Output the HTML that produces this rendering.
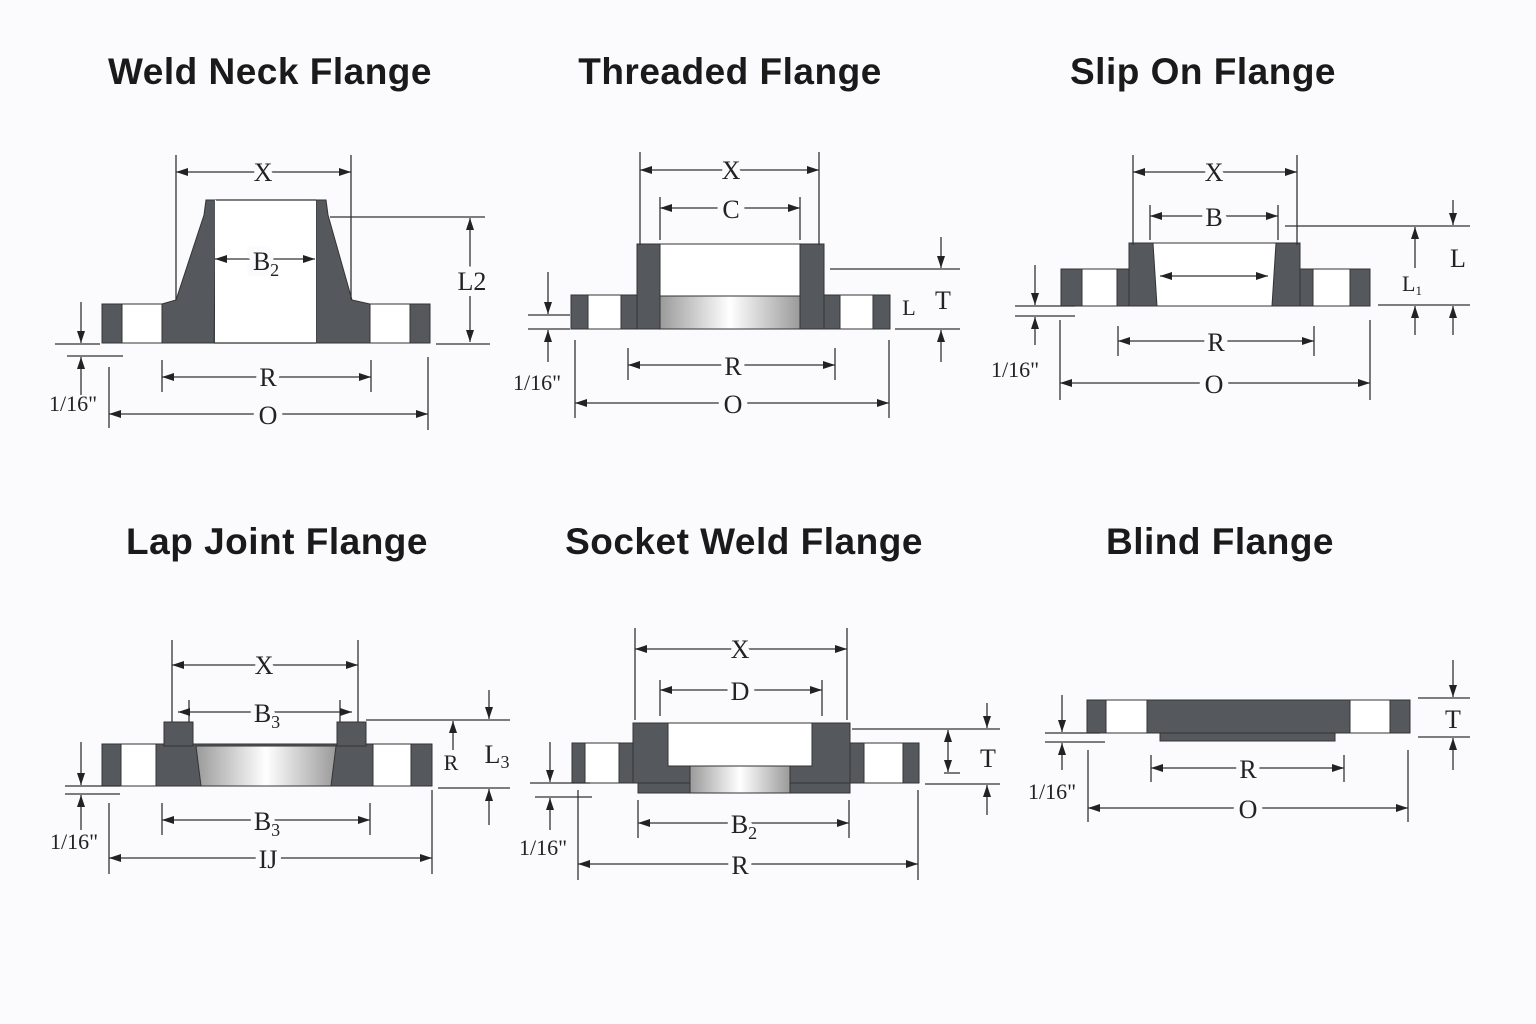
<!DOCTYPE html>
<html><head><meta charset="utf-8"><style>
html,body{margin:0;padding:0;background:#fbfafc}
svg{display:block}
.t{font-family:"Liberation Sans",sans-serif;font-weight:bold;font-size:37px;fill:#1a1a1a;text-anchor:middle;letter-spacing:0.5px}
.l{font-family:"Liberation Serif",serif;font-size:26px;fill:#222;text-anchor:middle;stroke:#fbfafc;stroke-width:12px;paint-order:stroke}
.l tspan{stroke-width:3px}
.s{font-family:"Liberation Serif",serif;font-size:22px;fill:#222;text-anchor:middle}
line,.d{stroke:#333;stroke-width:1.3;fill:none}
.a{marker-start:url(#ar);marker-end:url(#ar)}
.a1{marker-end:url(#ar)}
.k{fill:#55595e;stroke:#333;stroke-width:1}
.w{fill:#fff;stroke:#333;stroke-width:1}
.g{fill:url(#gr);stroke:#333;stroke-width:1}
</style></head><body>
<svg width="1536" height="1024" viewBox="0 0 1536 1024" xmlns="http://www.w3.org/2000/svg">
<defs>
<marker id="ar" viewBox="0 0 12 8" refX="12" refY="4" markerWidth="12" markerHeight="8" markerUnits="userSpaceOnUse" orient="auto-start-reverse"><path d="M0,0L12,4L0,8z" fill="#222"/></marker>
<linearGradient id="gr" x1="0" x2="1" y1="0" y2="0"><stop offset="0" stop-color="#9a9a9a"/><stop offset="0.5" stop-color="#ffffff"/><stop offset="1" stop-color="#9a9a9a"/></linearGradient>
</defs>
<rect width="1536" height="1024" fill="#fbfafc"/>
<text class="t" x="270" y="84">Weld Neck Flange</text>
<text class="t" x="730" y="84">Threaded Flange</text>
<text class="t" x="1203" y="84">Slip On Flange</text>
<text class="t" x="277" y="554">Lap Joint Flange</text>
<text class="t" x="744" y="554">Socket Weld Flange</text>
<text class="t" x="1220" y="554">Blind Flange</text>

<!-- Weld Neck -->
<rect class="k" x="102" y="304" width="328" height="39"/>
<rect class="w" x="122" y="304" width="40" height="39"/>
<rect class="w" x="370" y="304" width="40" height="39"/>
<polygon class="k" points="162,304 176,300 204,215 206,200 216,200 214,343 162,343"/>
<polygon class="k" points="316,200 326,200 328,215 352,300 370,304 370,343 316,343"/>
<rect x="215" y="200" width="101" height="143" fill="#fff"/>
<line x1="216" y1="200" x2="316" y2="200"/><line x1="214" y1="343" x2="316" y2="343"/>
<line x1="176" y1="155" x2="176" y2="300"/><line x1="351" y1="155" x2="351" y2="300"/>
<line class="a" x1="176" y1="172" x2="351" y2="172"/><text class="l" x="263" y="181">X</text>
<line class="a" x1="215" y1="259" x2="315" y2="259"/><text class="l" x="266" y="270">B<tspan font-size="18" dy="6">2</tspan></text>
<line x1="330" y1="217" x2="485" y2="217"/><line x1="436" y1="344" x2="490" y2="344"/>
<line class="a" x1="470" y1="218" x2="470" y2="342"/><text class="l" x="472" y="290" font-size="22">L2</text>
<line x1="55" y1="344" x2="100" y2="344"/><line x1="67" y1="356" x2="123" y2="356"/>
<line class="a1" x1="81" y1="302" x2="81" y2="343"/><line class="a1" x1="81" y1="395" x2="81" y2="357"/>
<text class="s" x="73" y="411">1/16"</text>
<line x1="162" y1="360" x2="162" y2="392"/><line x1="371" y1="360" x2="371" y2="392"/>
<line class="a" x1="162" y1="377" x2="371" y2="377"/><text class="l" x="268" y="386">R</text>
<line x1="109" y1="367" x2="109" y2="428"/><line x1="428" y1="357" x2="428" y2="430"/>
<line class="a" x1="109" y1="414" x2="428" y2="414"/><text class="l" x="268" y="424">O</text>

<!-- Threaded -->
<rect class="k" x="571" y="295" width="319" height="34"/>
<path class="k" d="M637,244H824V329H637z"/>
<rect class="w" x="588" y="295" width="33" height="34"/>
<rect class="w" x="840" y="295" width="33" height="34"/>
<rect x="660" y="244" width="140" height="52" fill="#fff" stroke="#333"/>
<rect class="g" x="660" y="296" width="140" height="33"/>
<line x1="640" y1="152" x2="640" y2="245"/><line x1="819" y1="152" x2="819" y2="245"/>
<line class="a" x1="640" y1="170" x2="819" y2="170"/><text class="l" x="731" y="179">X</text>
<line x1="660" y1="197" x2="660" y2="240"/><line x1="800" y1="197" x2="800" y2="240"/>
<line class="a" x1="660" y1="208" x2="800" y2="208"/><text class="l" x="731" y="218">C</text>
<line x1="830" y1="269" x2="960" y2="269"/><line x1="895" y1="329" x2="960" y2="329"/>
<line class="a1" x1="941" y1="237" x2="941" y2="268"/><line class="a1" x1="941" y1="362" x2="941" y2="330"/>
<text class="l" x="943" y="309">T</text><text class="s" x="909" y="315" font-size="18">L</text>
<line x1="528" y1="315" x2="570" y2="315"/><line x1="528" y1="329" x2="570" y2="329"/>
<line class="a1" x1="548" y1="272" x2="548" y2="314"/><line class="a1" x1="548" y1="362" x2="548" y2="330"/>
<text class="s" x="537" y="390">1/16"</text>
<line x1="628" y1="348" x2="628" y2="380"/><line x1="835" y1="348" x2="835" y2="380"/>
<line class="a" x1="628" y1="365" x2="835" y2="365"/><text class="l" x="733" y="375">R</text>
<line x1="575" y1="340" x2="575" y2="418"/><line x1="889" y1="340" x2="889" y2="418"/>
<line class="a" x1="575" y1="403" x2="889" y2="403"/><text class="l" x="733" y="413">O</text>

<!-- Slip On -->
<rect class="k" x="1061" y="269" width="309" height="37"/>
<rect class="k" x="1129" y="243" width="171" height="63"/>
<rect class="w" x="1082" y="269" width="35" height="37"/>
<rect class="w" x="1313" y="269" width="37" height="37"/>
<polygon class="w" points="1153,243 1276,243 1272,306 1157,306"/>
<line class="a" x1="1160" y1="276" x2="1268" y2="276"/>
<line x1="1133" y1="155" x2="1133" y2="245"/><line x1="1297" y1="155" x2="1297" y2="245"/>
<line class="a" x1="1133" y1="172" x2="1297" y2="172"/><text class="l" x="1214" y="181">X</text>
<line x1="1150" y1="205" x2="1150" y2="240"/><line x1="1278" y1="205" x2="1278" y2="240"/>
<line class="a" x1="1150" y1="216" x2="1278" y2="216"/><text class="l" x="1214" y="226">B</text>
<line x1="1285" y1="226" x2="1470" y2="226"/><line x1="1378" y1="305" x2="1470" y2="305"/>
<line class="a1" x1="1453" y1="200" x2="1453" y2="225"/><line class="a1" x1="1453" y1="335" x2="1453" y2="306"/>
<line class="a1" x1="1415" y1="268" x2="1415" y2="227"/><line class="a1" x1="1415" y1="335" x2="1415" y2="306"/>
<text class="l" x="1458" y="267">L</text><text class="s" x="1412" y="291" font-size="18">L<tspan font-size="13" dy="4">1</tspan></text>
<line x1="1015" y1="306" x2="1075" y2="306"/><line x1="1015" y1="316" x2="1075" y2="316"/>
<line class="a1" x1="1035" y1="265" x2="1035" y2="305"/><line class="a1" x1="1035" y1="345" x2="1035" y2="317"/>
<text class="s" x="1015" y="377">1/16"</text>
<line x1="1118" y1="326" x2="1118" y2="356"/><line x1="1314" y1="326" x2="1314" y2="356"/>
<line class="a" x1="1118" y1="341" x2="1314" y2="341"/><text class="l" x="1216" y="351">R</text>
<line x1="1060" y1="320" x2="1060" y2="400"/><line x1="1370" y1="320" x2="1370" y2="400"/>
<line class="a" x1="1060" y1="383" x2="1370" y2="383"/><text class="l" x="1214" y="393">O</text>

<!-- Lap Joint -->
<rect class="k" x="102" y="744" width="330" height="42"/>
<rect class="k" x="164" y="722" width="29" height="24"/>
<rect class="k" x="337" y="722" width="29" height="24"/>
<rect class="w" x="121" y="744" width="35" height="42"/>
<rect class="w" x="373" y="744" width="38" height="42"/>
<polygon class="g" points="196,746 336,746 331,786 201,786"/>
<line x1="172" y1="640" x2="172" y2="722"/><line x1="358" y1="640" x2="358" y2="722"/>
<line class="a" x1="172" y1="665" x2="358" y2="665"/><text class="l" x="264" y="674">X</text>
<line x1="189" y1="700" x2="189" y2="722"/><line x1="340" y1="700" x2="340" y2="722"/>
<line class="a" x1="178" y1="712" x2="352" y2="712"/><text class="l" x="267" y="722">B<tspan font-size="18" dy="6">3</tspan></text>
<line x1="366" y1="720" x2="510" y2="720"/><line x1="438" y1="788" x2="510" y2="788"/>
<line class="a1" x1="489" y1="690" x2="489" y2="719"/><line class="a1" x1="489" y1="825" x2="489" y2="789"/>
<line class="a1" x1="453" y1="750" x2="453" y2="721"/>
<text class="l" x="497" y="763">L<tspan font-size="18" dy="5">3</tspan></text><text class="s" x="451" y="770">R</text>
<line x1="65" y1="786" x2="120" y2="786"/><line x1="65" y1="794" x2="120" y2="794"/>
<line class="a1" x1="81" y1="742" x2="81" y2="785"/><line class="a1" x1="81" y1="830" x2="81" y2="795"/>
<text class="s" x="74" y="849">1/16"</text>
<line x1="162" y1="803" x2="162" y2="835"/><line x1="370" y1="803" x2="370" y2="835"/>
<line class="a" x1="162" y1="820" x2="370" y2="820"/><text class="l" x="267" y="830">B<tspan font-size="18" dy="6">3</tspan></text>
<line x1="109" y1="803" x2="109" y2="874"/><line x1="432" y1="790" x2="432" y2="874"/>
<line class="a" x1="109" y1="858" x2="432" y2="858"/><text class="l" x="268" y="868">IJ</text>

<!-- Socket Weld -->
<rect class="k" x="572" y="743" width="347" height="40"/>
<rect class="k" x="633" y="723" width="217" height="60"/>
<rect class="k" x="638" y="783" width="212" height="10"/>
<rect class="w" x="585" y="743" width="34" height="40"/>
<rect class="w" x="864" y="743" width="39" height="40"/>
<rect class="w" x="668" y="723" width="144" height="43"/>
<rect class="g" x="690" y="766" width="100" height="27"/>
<line x1="635" y1="628" x2="635" y2="720"/><line x1="847" y1="628" x2="847" y2="720"/>
<line class="a" x1="635" y1="649" x2="847" y2="649"/><text class="l" x="740" y="658">X</text>
<line x1="660" y1="680" x2="660" y2="716"/><line x1="822" y1="680" x2="822" y2="716"/>
<line class="a" x1="660" y1="690" x2="822" y2="690"/><text class="l" x="740" y="700">D</text>
<line x1="852" y1="729" x2="1000" y2="729"/><line x1="925" y1="784" x2="1000" y2="784"/>
<line class="a1" x1="987" y1="703" x2="987" y2="728"/><line class="a1" x1="987" y1="815" x2="987" y2="785"/>
<line class="a" x1="948" y1="730" x2="948" y2="772"/><line x1="944" y1="773" x2="960" y2="773"/>
<text class="l" x="988" y="767">T</text>
<line x1="530" y1="783" x2="590" y2="783"/><line x1="535" y1="797" x2="592" y2="797"/>
<line class="a1" x1="550" y1="742" x2="550" y2="782"/><line class="a1" x1="550" y1="830" x2="550" y2="798"/>
<text class="s" x="543" y="855">1/16"</text>
<line x1="638" y1="800" x2="638" y2="838"/><line x1="849" y1="800" x2="849" y2="838"/>
<line class="a" x1="638" y1="823" x2="849" y2="823"/><text class="l" x="744" y="833">B<tspan font-size="18" dy="6">2</tspan></text>
<line x1="578" y1="790" x2="578" y2="880"/><line x1="918" y1="790" x2="918" y2="880"/>
<line class="a" x1="578" y1="864" x2="918" y2="864"/><text class="l" x="740" y="874">R</text>

<!-- Blind -->
<rect class="k" x="1087" y="700" width="323" height="33"/>
<rect class="k" x="1160" y="733" width="175" height="8"/>
<rect class="w" x="1106" y="700" width="41" height="33"/>
<rect class="w" x="1350" y="700" width="40" height="33"/>
<line x1="1418" y1="698" x2="1470" y2="698"/><line x1="1418" y1="737" x2="1470" y2="737"/>
<line class="a1" x1="1453" y1="660" x2="1453" y2="697"/><line class="a1" x1="1453" y1="770" x2="1453" y2="738"/>
<text class="l" x="1453" y="728">T</text>
<line x1="1045" y1="733" x2="1100" y2="733"/><line x1="1045" y1="742" x2="1105" y2="742"/>
<line class="a1" x1="1062" y1="695" x2="1062" y2="732"/><line class="a1" x1="1062" y1="770" x2="1062" y2="743"/>
<text class="s" x="1052" y="799">1/16"</text>
<line x1="1151" y1="755" x2="1151" y2="782"/><line x1="1344" y1="755" x2="1344" y2="782"/>
<line class="a" x1="1151" y1="768" x2="1344" y2="768"/><text class="l" x="1248" y="778">R</text>
<line x1="1088" y1="750" x2="1088" y2="822"/><line x1="1408" y1="750" x2="1408" y2="822"/>
<line class="a" x1="1088" y1="808" x2="1408" y2="808"/><text class="l" x="1248" y="818">O</text>
</svg>
</body></html>
